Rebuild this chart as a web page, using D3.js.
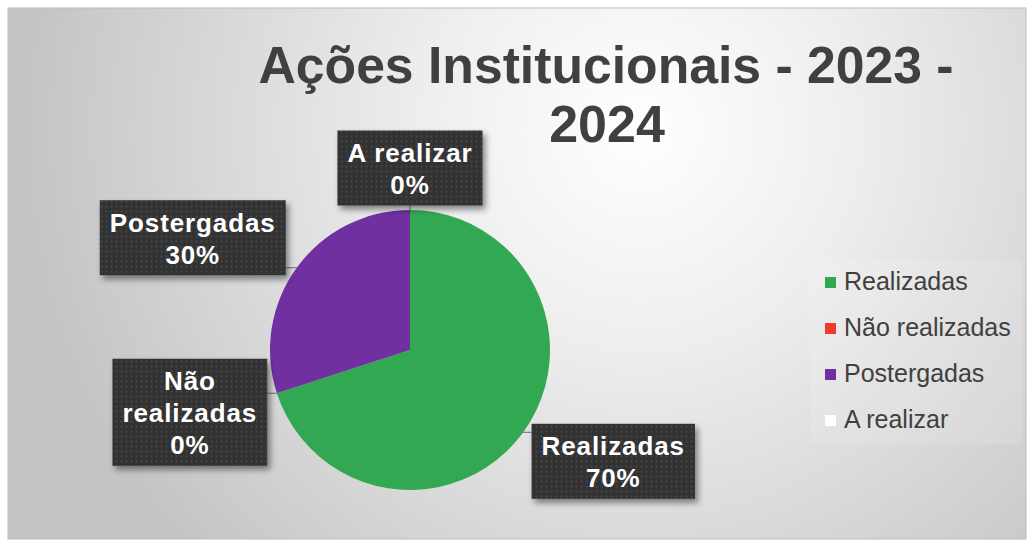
<!DOCTYPE html>
<html>
<head>
<meta charset="utf-8">
<script src="https://cdn.jsdelivr.net/npm/d3@7"></script>
<style>
  html, body { margin: 0; padding: 0; background: #fff; }
  svg { display: block; font-family: "Liberation Sans", Arial, sans-serif; }
</style>
</head>
<body>
<div id="pie-chart"></div>
<script>
// data
const categories = ["Realizadas", "Não realizadas", "Postergadas", "A realizar"];
const values = [70, 0, 30, 0];
const colors = ["#33a852", "#ef3b2e", "#7030a0", "#ffffff"];
const labelLines = [["Realizadas", "70%"], ["Não", "realizadas", "0%"], ["Postergadas", "30%"], ["A realizar", "0%"]];
const titleLines = ["Ações Institucionais - 2023 -", "2024"];

// layout (not data): where the callout boxes sit relative to their slice point
const labelOffsets = [[90, 29], [-87, 19], [-104, -30], [0, -42]];

const width = 1031, height = 542;
const svg = d3.select("#pie-chart").append("svg")
    .attr("width", width).attr("height", height);

const defs = svg.append("defs");
let bg = defs.append("radialGradient").attr("id", "bg")
    .attr("gradientUnits", "userSpaceOnUse")
    .attr("cx", 640).attr("cy", 130).attr("r", 620);
bg.append("stop").attr("offset", 0).attr("stop-color", "#ffffff");
bg.append("stop").attr("offset", 0.35).attr("stop-color", "#eeeeee");
bg.append("stop").attr("offset", 1).attr("stop-color", "#c4c4c4");

// dotted dark fill for the callouts
let pat = defs.append("pattern").attr("id", "dots")
    .attr("patternUnits", "userSpaceOnUse").attr("width", 5).attr("height", 5);
pat.append("rect").attr("width", 5).attr("height", 5).attr("fill", "#333333");
pat.append("circle").attr("cx", 1.5).attr("cy", 1.5).attr("r", 0.9).attr("fill", "#4a4a4a");

let sh = defs.append("filter").attr("id", "shadow")
    .attr("x", "-20%").attr("y", "-20%").attr("width", "150%").attr("height", "150%");
sh.append("feDropShadow").attr("dx", 3).attr("dy", 4).attr("stdDeviation", 3)
    .attr("flood-color", "#000").attr("flood-opacity", 0.45);

// chart area
svg.append("rect").attr("x", 8).attr("y", 8).attr("width", 1018).attr("height", 531)
    .attr("fill", "url(#bg)").attr("stroke", "#bdbdbd").attr("stroke-width", 1);

// title
let title = svg.append("text").attr("fill", "#404040")
    .attr("font-weight", "bold").attr("font-size", 52).attr("text-anchor", "middle");
title.append("tspan").attr("x", 606).attr("y", 83).text(titleLines[0])
    .attr("textLength", 695).attr("lengthAdjust", "spacingAndGlyphs");
title.append("tspan").attr("x", 607).attr("y", 142).text(titleLines[1]);

// pie
const cx = 410, cy = 350, radius = 140;
const pie = d3.pie().sort(null).value(d => d);
const arcs = pie(values);
const arc = d3.arc().innerRadius(0).outerRadius(radius);

const g = svg.append("g").attr("transform", `translate(${cx},${cy})`);
g.selectAll("path").data(arcs).enter().append("path")
    .attr("d", arc)
    .attr("fill", (d, i) => colors[i]);

// callout labels
const pointAt = a => [Math.sin(a) * radius, -Math.cos(a) * radius];
const lineH = 32, padX = 10;
arcs.forEach((d, i) => {
    let mid = (d.startAngle + d.endAngle) / 2;
    let p = pointAt(mid);
    let bx = p[0] + labelOffsets[i][0], by = p[1] + labelOffsets[i][1];
    let lab = g.append("g");
    let rect = lab.append("rect").attr("fill", "url(#dots)").attr("filter", "url(#shadow)");
    let txt = lab.append("text").attr("fill", "#ffffff").attr("font-weight", "bold")
        .attr("font-size", 26).attr("letter-spacing", 0.9).attr("text-anchor", "middle");
    let n = labelLines[i].length;
    let h = n * lineH + 11;
    let top = by - h / 2;
    labelLines[i].forEach((s, k) => {
        txt.append("tspan").attr("x", bx).attr("y", top + 5.5 + 26 + k * lineH).text(s);
    });
    let w = d3.max(txt.selectAll("tspan").nodes(), t => t.getComputedTextLength()) + padX * 2;
    rect.attr("x", bx - w / 2).attr("y", top).attr("width", w).attr("height", h);
    // leader line from slice edge to nearest box point
    let nx = Math.max(bx - w / 2, Math.min(p[0], bx + w / 2));
    let ny = Math.max(top, Math.min(p[1], top + h));
    g.insert("line", "g").attr("x1", p[0]).attr("y1", p[1]).attr("x2", nx).attr("y2", ny)
        .attr("stroke", "#6f6f6f").attr("stroke-width", 1);
});

// legend
svg.append("rect").attr("x", 810).attr("y", 260).attr("width", 212).attr("height", 184)
    .attr("fill", "#ffffff").attr("opacity", 0.12);
const ly = d3.scalePoint().domain(categories).range([290, 428]);
const legend = svg.append("g").selectAll("g").data(categories).enter().append("g")
    .attr("transform", d => `translate(825,${ly(d)})`);
legend.append("rect").attr("x", 0).attr("y", -13).attr("width", 11).attr("height", 11)
    .attr("fill", (d, i) => colors[i]);
legend.append("text").attr("x", 19).attr("y", 0)
    .attr("font-size", 25).attr("fill", "#404040").text(d => d);
</script>
</body>
</html>
